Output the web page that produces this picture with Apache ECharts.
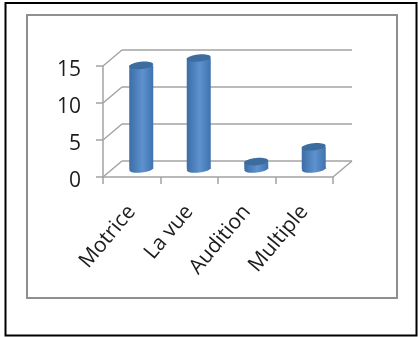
<!DOCTYPE html>
<html>
<head>
<meta charset="utf-8">
<style>html,body{margin:0;padding:0;background:#fff}#chart{width:418px;height:337px}</style>
<script src="https://cdn.jsdelivr.net/npm/echarts@6/dist/echarts.min.js"></script>
</head>
<body>
<div id="chart"></div>
<script>
const categories = ['Motrice', 'La vue', 'Audition', 'Multiple'];
const counts = [14, 15, 1, 3];
const wallTicks = [0, 5, 10, 15];

const LINE = '#a3a3a3';
const TEXT = '#1c1c1c';
const DEPTH = [19, -16];      // offset from front plane to back wall
const FRONT = { left: 103, top: 66, width: 230, height: 111 };
const shifted = k => ({
  left: FRONT.left + DEPTH[0] * k,
  top: FRONT.top + DEPTH[1] * k,
  width: FRONT.width,
  height: FRONT.height
});

const valueAxis = (gridIndex, visible) => ({
  type: 'value', gridIndex, min: 0, max: 15, interval: 5,
  axisLine: { show: visible, lineStyle: { color: LINE, width: 1.5 } },
  axisTick: { show: visible, length: 7, lineStyle: { color: LINE, width: 1.5 } },
  axisLabel: { show: visible, color: TEXT, fontFamily: 'Open Sans', fontSize: 21, margin: 22, verticalAlign: 'top', lineHeight: 8 },
  splitLine: { show: false }
});
const catAxis = (gridIndex, visible) => ({
  type: 'category', gridIndex, data: categories,
  axisLine: { show: visible, lineStyle: { color: LINE, width: 1.5 } },
  axisTick: { show: visible, length: 7, lineStyle: { color: LINE, width: 1.5 } },
  axisLabel: { show: visible, color: TEXT, fontFamily: 'Open Sans', fontSize: 21, rotate: 50, margin: 31, interval: 0 },
  splitLine: { show: false }
});

// Slanted edges of the left wall and floor, plus the back wall rails.
function renderFrame(params, api) {
  const band = api.size([1, 0])[0];
  const children = [];
  const seg = (a, b) => children.push({
    type: 'line',
    shape: { x1: a[0], y1: a[1], x2: b[0], y2: b[1] },
    style: { stroke: LINE, lineWidth: 1.5 }
  });
  const back = p => [p[0] + DEPTH[0], p[1] + DEPTH[1]];
  wallTicks.forEach(v => {
    const p = api.coord([0, v]);
    const start = [p[0] - band / 2, p[1]];
    seg(start, back(start));
    const end = [start[0] + band * categories.length, p[1]];
    seg(back(start), back(end));
  });
  const o = api.coord([categories.length - 1, 0]);
  const corner = [o[0] + band / 2, o[1]];
  seg(corner, back(corner));
  return { type: 'group', children };
}

// One cylinder per category, standing midway between front and back.
function renderCylinder(params, api) {
  const base = api.coord([api.value(0), 0]);
  const top = api.coord([api.value(0), api.value(1)]);
  const rx = 12, ry = 3.6, tilt = 0.1;
  const body = new echarts.graphic.LinearGradient(0, 0, 1, 0, [
    { offset: 0, color: '#3b6ea6' },
    { offset: 0.55, color: '#5e92cf' },
    { offset: 1, color: '#3f73ad' }
  ]);
  return {
    type: 'group',
    children: [
      { type: 'ellipse', shape: { cx: base[0], cy: base[1], rx, ry }, rotation: tilt, originX: base[0], originY: base[1], style: { fill: body } },
      { type: 'rect', shape: { x: base[0] - rx, y: top[1], width: rx * 2, height: base[1] - top[1] }, style: { fill: body } },
      { type: 'ellipse', shape: { cx: top[0], cy: top[1], rx, ry }, rotation: tilt, originX: top[0], originY: top[1], style: { fill: '#3d6c9f' } }
    ]
  };
}

const chart = echarts.init(document.getElementById('chart'), null, { renderer: 'canvas' });
chart.setOption({
  animation: false,
  backgroundColor: '#fff',
  graphic: [
    { type: 'rect', shape: { x: 5.5, y: 3, width: 411, height: 332.5 }, style: { fill: 'none', stroke: '#000', lineWidth: 2 }, z: 0 },
    { type: 'rect', shape: { x: 27, y: 15, width: 370, height: 283 }, style: { fill: 'none', stroke: '#8f8f8f', lineWidth: 2 }, z: 0 }
  ],
  grid: [FRONT, shifted(0.5)],
  xAxis: [catAxis(0, true), catAxis(1, false)],
  yAxis: [valueAxis(0, true), valueAxis(1, false)],
  series: [
    {
      type: 'custom', xAxisIndex: 0, yAxisIndex: 0, z: 1, clip: false,
      data: categories.map((c, i) => [i, 0]),
      encode: { x: 0, y: 1 },
      renderItem: (params, api) => params.dataIndex === 0 ? renderFrame(params, api) : null
    },
    {
      type: 'custom', xAxisIndex: 1, yAxisIndex: 1, z: 3, clip: false,
      data: categories.map((c, i) => [i, counts[i]]),
      encode: { x: 0, y: 1 },
      renderItem: renderCylinder
    }
  ]
});
</script>
</body>
</html>
